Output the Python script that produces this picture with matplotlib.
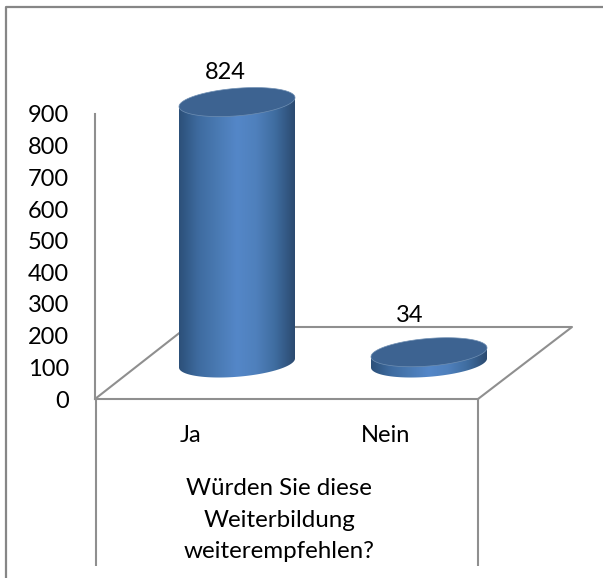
import numpy as np
from matplotlib import pyplot as plt
from matplotlib.colors import LinearSegmentedColormap
from matplotlib.lines import Line2D
from matplotlib.patches import PathPatch, Polygon
from matplotlib.path import Path
from matplotlib.transforms import Affine2D

categories = ['Ja', 'Nein']
values = [824, 34]
y_ticks = [0, 100, 200, 300, 400, 500, 600, 700, 800, 900]
x_title = 'Würden Sie diese\nWeiterbildung\nweiterempfehlen?'

W, H = 603, 578
GREY = '#8f8f8f'
plt.rcParams['font.family'] = ['Lato', 'DejaVu Sans']
plt.rcParams['font.size'] = 17

fig = plt.figure(figsize=(W / 100, H / 100), dpi=100, facecolor='white')

# axes box runs from the front floor edge up to the 900 tick
left, right, top, bottom = 95, 478, 114, 399
ax = fig.add_axes([left / W, 1 - bottom / H, (right - left) / W, (bottom - top) / H])
ax.patch.set_visible(False)

# 192 px between the two columns, Ja sits at px 237
px_per_cat = 192
ax.set_xlim((left - 237) / px_per_cat, (right - 237) / px_per_cat)
ax.set_ylim(0, 900)
px_y = 900 / (bottom - top)

# pixel coordinates (y down) for the frame and the floor
px = Affine2D().scale(1, -1).translate(0, H)


def frame_line(xs, ys, lw=1.5, color=GREY):
    fig.add_artist(Line2D(xs, ys, transform=px, color=color, lw=lw, zorder=-1,
                          solid_capstyle='butt'))


# outer frame
frame_line([6, 6, 603], [578, 7, 7], lw=1.6, color='#868686')
# floor
frame_line([95, 187, 572, 478], [399, 327, 327, 399])
# drop lines below the floor
frame_line([96, 96], [399, 566])
frame_line([478, 478], [399, 566])

for s in ['top', 'right']:
    ax.spines[s].set_visible(False)
for s in ['left', 'bottom']:
    ax.spines[s].set_color(GREY)
    ax.spines[s].set_linewidth(1.5)

ax.set_yticks(y_ticks)
# category labels sit on the front plane, so left of the columns behind them
ax.set_xticks([(190 - 237) / px_per_cat, (386 - 237) / px_per_cat])
ax.set_xticklabels(categories)
ax.tick_params(axis='y', length=0, pad=18.5)
ax.tick_params(axis='x', length=0, pad=19)
ax.set_xlabel(x_title, linespacing=1.62, ha='center', va='top', fontsize=17.4)
ax.xaxis.set_label_coords((279 - left) / (right - left), -(478 - bottom) / (bottom - top))

# cylinder shape, all in data units
half_w = 58 / px_per_cat
ell_b = 13.8 * px_y
ell_s = 4.5 * px_y
depth = 36 * px_y

side_cmap = LinearSegmentedColormap.from_list(
    'side', ['#2c5079', '#3e6b9f', '#4a7ab3', '#5487c8', '#4f80bc', '#3f6c9f', '#2b4a70'])
gradient = np.linspace(0, 1, 256).reshape(1, -1)
t = np.linspace(0, 2 * np.pi, 181)
label_offsets = [(-12, 30), (-19, 37)]

for i, val in enumerate(values):
    base = depth
    tip = val + depth

    # lower half of the base ellipse, closed along the top ellipse centre
    t_low = np.linspace(np.pi, 2 * np.pi, 91)
    xs = i + half_w * np.cos(t_low)
    ys = base + ell_b * np.sin(t_low) + ell_s * np.cos(t_low)
    body = np.column_stack([xs, ys])
    body = np.vstack([body, [i + half_w, tip + ell_s], [i - half_w, tip - ell_s]])

    img = ax.imshow(gradient, cmap=side_cmap, aspect='auto', zorder=3,
                    extent=[i - half_w, i + half_w, base - 2 * ell_b, tip + ell_s])
    clip = PathPatch(Path(np.vstack([body, body[0]])), transform=ax.transData)
    img.set_clip_path(clip)
    # the column top pokes out above the axes box
    img.set_clip_box(fig.bbox)

    ax.add_patch(Polygon(np.column_stack([i + half_w * np.cos(t),
                                          tip + ell_b * np.sin(t) + ell_s * np.cos(t)]),
                         closed=True, facecolor='#3d6391', edgecolor='#6f8fb3',
                         lw=0.5, zorder=4, clip_on=False))

    dx, dy = label_offsets[i]
    ax.annotate(str(val), (i, tip), xytext=(dx * 0.72, dy * 0.72),
                textcoords='offset points', ha='center', va='center',
                annotation_clip=False, zorder=5)

ax.set_xlim((left - 237) / px_per_cat, (right - 237) / px_per_cat)
ax.set_ylim(0, 900)

plt.savefig('out.png', dpi=100)
plt.close()
